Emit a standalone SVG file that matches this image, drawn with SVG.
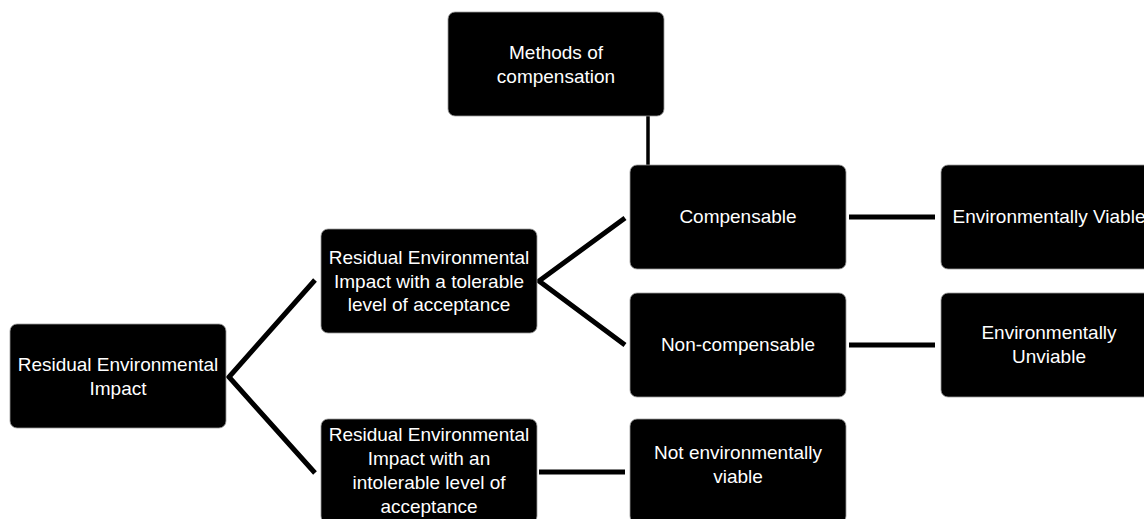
<svg xmlns="http://www.w3.org/2000/svg" width="1144" height="519" viewBox="0 0 1144 519">
<style>
.box{fill:#000;stroke:#9a9a9a;stroke-width:0.8}
.t{font-family:"Liberation Sans",Arial,sans-serif;font-size:19px;fill:#fff;text-anchor:middle}
.c{stroke:#000;stroke-width:5;fill:none}
.v{stroke:#000;stroke-width:3.5;fill:none}
</style>
<rect width="1144" height="519" fill="#fff"/>
<g id="connectors">
<line class="v" x1="648" y1="116" x2="648" y2="166"/>
<polyline class="c" points="315,280 229,377 315,473"/>
<polyline class="c" points="625,218 539,281 625,345"/>
<line class="c" x1="849" y1="217" x2="935" y2="217"/>
<line class="c" x1="849" y1="345" x2="935" y2="345"/>
<line class="c" x1="539" y1="472" x2="625" y2="472"/>
</g>
<g id="methods">
<rect class="box" x="448" y="12" width="216" height="104" rx="7"/>
<text class="t" x="556" y="59">Methods of</text>
<text class="t" x="556" y="83">compensation</text>
</g>
<g id="residual">
<rect class="box" x="10" y="324" width="216" height="104" rx="7"/>
<text class="t" x="118" y="371">Residual Environmental</text>
<text class="t" x="118" y="395">Impact</text>
</g>
<g id="tolerable">
<rect class="box" x="321" y="229" width="216" height="104" rx="7"/>
<text class="t" x="429" y="264">Residual Environmental</text>
<text class="t" x="429" y="288">Impact with a tolerable</text>
<text class="t" x="429" y="311">level of acceptance</text>
</g>
<g id="intolerable">
<rect class="box" x="321" y="419" width="216" height="104" rx="7"/>
<text class="t" x="429" y="441">Residual Environmental</text>
<text class="t" x="429" y="465">Impact with an</text>
<text class="t" x="429" y="489">intolerable level of</text>
<text class="t" x="429" y="513">acceptance</text>
</g>
<g id="compensable">
<rect class="box" x="630" y="165" width="216" height="104" rx="7"/>
<text class="t" x="738" y="223">Compensable</text>
</g>
<g id="noncompensable">
<rect class="box" x="630" y="293" width="216" height="104" rx="7"/>
<text class="t" x="738" y="351">Non-compensable</text>
</g>
<g id="notviable">
<rect class="box" x="630" y="419" width="216" height="104" rx="7"/>
<text class="t" x="738" y="459">Not environmentally</text>
<text class="t" x="738" y="483">viable</text>
</g>
<g id="viable">
<rect class="box" x="941" y="165" width="216" height="104" rx="7"/>
<text class="t" x="1049" y="223">Environmentally Viable</text>
</g>
<g id="unviable">
<rect class="box" x="941" y="293" width="216" height="104" rx="7"/>
<text class="t" x="1049" y="339">Environmentally</text>
<text class="t" x="1049" y="363">Unviable</text>
</g>
</svg>
